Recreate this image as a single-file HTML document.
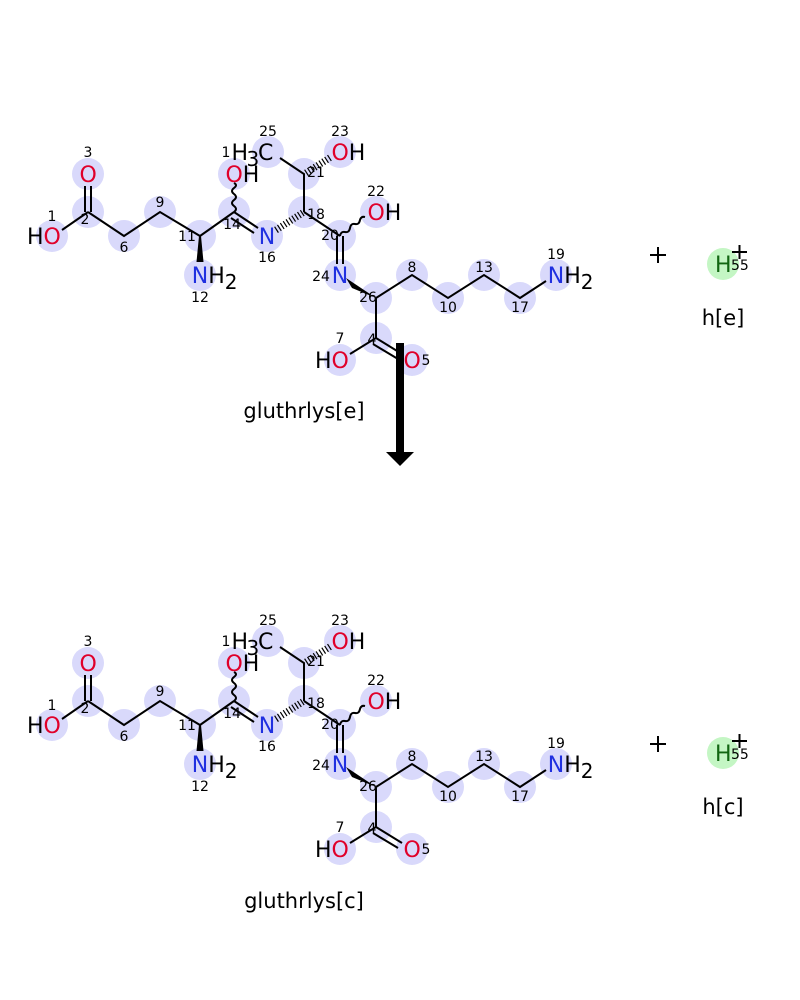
<!DOCTYPE html>
<html><head><meta charset="utf-8"><style>
html,body{margin:0;padding:0;background:#fff;}
svg{display:block;font-family:"DejaVu Sans","Liberation Sans",sans-serif;}
.c{fill:#d9d9fb;}
.b{stroke:#000;stroke-width:2;fill:none;}
.h{stroke:#000;stroke-width:7;fill:none;stroke-dasharray:1.2 2.2;}
.e{font-size:22px;}
.s{font-size:20px;}
.n{font-size:14px;fill:#000;}
.O{fill:#e0002a;} .N{fill:#2030e0;} .K{fill:#000;}
.lab{font-size:21px;}
</style></head><body>
<svg width="800" height="1000" viewBox="0 0 800 1000">
<g>
<g>
<circle class="c" cx="52" cy="236" r="16"/><circle class="c" cx="88" cy="212" r="16"/><circle class="c" cx="88" cy="174" r="16"/>
<circle class="c" cx="124" cy="236" r="16"/><circle class="c" cx="160" cy="212" r="16"/><circle class="c" cx="200" cy="236" r="16"/>
<circle class="c" cx="200" cy="275" r="16"/><circle class="c" cx="234" cy="212" r="16"/><circle class="c" cx="234" cy="174" r="16"/>
<circle class="c" cx="267" cy="236" r="16"/><circle class="c" cx="304" cy="212" r="16"/><circle class="c" cx="304" cy="174" r="16"/>
<circle class="c" cx="268" cy="152" r="16"/><circle class="c" cx="340" cy="152" r="16"/><circle class="c" cx="340" cy="236" r="16"/>
<circle class="c" cx="376" cy="212" r="16"/><circle class="c" cx="340" cy="275" r="16"/><circle class="c" cx="376" cy="298" r="16"/>
<circle class="c" cx="412" cy="275" r="16"/><circle class="c" cx="448" cy="298" r="16"/><circle class="c" cx="484" cy="275" r="16"/>
<circle class="c" cx="520" cy="298" r="16"/><circle class="c" cx="556" cy="275" r="16"/><circle class="c" cx="376" cy="338" r="16"/>
<circle class="c" cx="340" cy="360" r="16"/><circle class="c" cx="412" cy="360" r="16"/>
</g>
<path class="b" d="M62 230L88 212M85 212V186M91 212V186M88 212L124 236L160 212L200 236L234 212M234 212L258 228M231 218L254 233M304 212V174L280 158M304 212L340 236M337 236V264M343 236V264M376 298L412 275L448 298L484 275L520 298L546 281M376 298V338L350 354M376 338L402 354M373 344L398 359"/>
<path class="b" stroke-width="1.6" d="M234 212q4 -3 0 -6q-4 -3 0 -6q4 -3 0 -6q-4 -3 0 -6q4 -3 0 -5M340 236q1 -5 5 -4q4 1 5 -4q1 -5 5 -4q4 1 5 -4q1 -4 5 -3"/>
<path class="h" d="M276 230L304 212M306 173L331 157"/>
<polygon points="199,236 201,236 203.5,262 196.5,262"/>
<polygon points="346,278 352,288 376,298"/>
<text class="e K" x="27" y="244">H</text><text class="e O" x="43.5" y="244">O</text>
<text class="e O" x="79.5" y="182">O</text>
<text class="e N" x="191.7" y="283">N</text><text class="e K" x="208.2" y="283">H</text><text class="K s" x="224.8" y="289">2</text>
<text class="e O" x="225.5" y="182">O</text><text class="e K" x="242.8" y="182">H</text>
<text class="e N" x="258.7" y="244">N</text>
<text class="e K" x="231.5" y="160">H</text><text class="K s" x="246.5" y="166">3</text><text class="e K" x="258" y="160">C</text>
<text class="e O" x="331.5" y="160">O</text><text class="e K" x="348.8" y="160">H</text>
<text class="e O" x="367.5" y="220">O</text><text class="e K" x="384.8" y="220">H</text>
<text class="e N" x="331.7" y="283">N</text>
<text class="e N" x="547.7" y="283">N</text><text class="e K" x="564.2" y="283">H</text><text class="K s" x="580.8" y="289">2</text>
<text class="e K" x="315" y="368">H</text><text class="e O" x="331.5" y="368">O</text>
<text class="e O" x="403.5" y="368">O</text>
<g class="n" text-anchor="middle">
<text x="88" y="157">3</text><text x="52" y="221">1</text><text x="85" y="224">2</text><text x="124" y="252">6</text>
<text x="160" y="207">9</text><text x="187" y="241">11</text><text x="200" y="302">12</text><text x="232" y="229">14</text>
<text x="226" y="157">1</text><text x="267" y="262">16</text><text x="268" y="136">25</text><text x="340" y="136">23</text>
<text x="316" y="177">21</text><text x="316" y="219">18</text><text x="376" y="196">22</text><text x="330" y="240">20</text>
<text x="321" y="281">24</text><text x="368" y="302">26</text><text x="412" y="272">8</text><text x="448" y="312">10</text>
<text x="484" y="272">13</text><text x="520" y="312">17</text><text x="556" y="259">19</text><text x="340" y="343">7</text>
<text x="372" y="344">4</text><text x="426" y="365">5</text>
</g>
<text x="304" y="418" text-anchor="middle" class="K lab">gluthrlys[e]</text>
<path class="b" d="M650 255H666M658 247V263"/>
<circle cx="723" cy="264" r="16" fill="#c4f6c4"/>
<text class="e" x="715" y="272" fill="#116611">H</text>
<text class="n" x="731" y="270" fill="#116611">55</text>
<path class="b" d="M732 252H747M739.5 245V259"/>
<text x="723" y="325" text-anchor="middle" class="lab">h[e]</text>
</g>
<rect x="396" y="343" width="8" height="110"/>
<polygon points="386,452 414,452 400,466"/>
<g transform="translate(0,489)">
<g>
<circle class="c" cx="52" cy="236" r="16"/><circle class="c" cx="88" cy="212" r="16"/><circle class="c" cx="88" cy="174" r="16"/>
<circle class="c" cx="124" cy="236" r="16"/><circle class="c" cx="160" cy="212" r="16"/><circle class="c" cx="200" cy="236" r="16"/>
<circle class="c" cx="200" cy="275" r="16"/><circle class="c" cx="234" cy="212" r="16"/><circle class="c" cx="234" cy="174" r="16"/>
<circle class="c" cx="267" cy="236" r="16"/><circle class="c" cx="304" cy="212" r="16"/><circle class="c" cx="304" cy="174" r="16"/>
<circle class="c" cx="268" cy="152" r="16"/><circle class="c" cx="340" cy="152" r="16"/><circle class="c" cx="340" cy="236" r="16"/>
<circle class="c" cx="376" cy="212" r="16"/><circle class="c" cx="340" cy="275" r="16"/><circle class="c" cx="376" cy="298" r="16"/>
<circle class="c" cx="412" cy="275" r="16"/><circle class="c" cx="448" cy="298" r="16"/><circle class="c" cx="484" cy="275" r="16"/>
<circle class="c" cx="520" cy="298" r="16"/><circle class="c" cx="556" cy="275" r="16"/><circle class="c" cx="376" cy="338" r="16"/>
<circle class="c" cx="340" cy="360" r="16"/><circle class="c" cx="412" cy="360" r="16"/>
</g>
<path class="b" d="M62 230L88 212M85 212V186M91 212V186M88 212L124 236L160 212L200 236L234 212M234 212L258 228M231 218L254 233M304 212V174L280 158M304 212L340 236M337 236V264M343 236V264M376 298L412 275L448 298L484 275L520 298L546 281M376 298V338L350 354M376 338L402 354M373 344L398 359"/>
<path class="b" stroke-width="1.6" d="M234 212q4 -3 0 -6q-4 -3 0 -6q4 -3 0 -6q-4 -3 0 -6q4 -3 0 -5M340 236q1 -5 5 -4q4 1 5 -4q1 -5 5 -4q4 1 5 -4q1 -4 5 -3"/>
<path class="h" d="M276 230L304 212M306 173L331 157"/>
<polygon points="199,236 201,236 203.5,262 196.5,262"/>
<polygon points="346,278 352,288 376,298"/>
<text class="e K" x="27" y="244">H</text><text class="e O" x="43.5" y="244">O</text>
<text class="e O" x="79.5" y="182">O</text>
<text class="e N" x="191.7" y="283">N</text><text class="e K" x="208.2" y="283">H</text><text class="K s" x="224.8" y="289">2</text>
<text class="e O" x="225.5" y="182">O</text><text class="e K" x="242.8" y="182">H</text>
<text class="e N" x="258.7" y="244">N</text>
<text class="e K" x="231.5" y="160">H</text><text class="K s" x="246.5" y="166">3</text><text class="e K" x="258" y="160">C</text>
<text class="e O" x="331.5" y="160">O</text><text class="e K" x="348.8" y="160">H</text>
<text class="e O" x="367.5" y="220">O</text><text class="e K" x="384.8" y="220">H</text>
<text class="e N" x="331.7" y="283">N</text>
<text class="e N" x="547.7" y="283">N</text><text class="e K" x="564.2" y="283">H</text><text class="K s" x="580.8" y="289">2</text>
<text class="e K" x="315" y="368">H</text><text class="e O" x="331.5" y="368">O</text>
<text class="e O" x="403.5" y="368">O</text>
<g class="n" text-anchor="middle">
<text x="88" y="157">3</text><text x="52" y="221">1</text><text x="85" y="224">2</text><text x="124" y="252">6</text>
<text x="160" y="207">9</text><text x="187" y="241">11</text><text x="200" y="302">12</text><text x="232" y="229">14</text>
<text x="226" y="157">1</text><text x="267" y="262">16</text><text x="268" y="136">25</text><text x="340" y="136">23</text>
<text x="316" y="177">21</text><text x="316" y="219">18</text><text x="376" y="196">22</text><text x="330" y="240">20</text>
<text x="321" y="281">24</text><text x="368" y="302">26</text><text x="412" y="272">8</text><text x="448" y="312">10</text>
<text x="484" y="272">13</text><text x="520" y="312">17</text><text x="556" y="259">19</text><text x="340" y="343">7</text>
<text x="372" y="344">4</text><text x="426" y="365">5</text>
</g>
<text x="304" y="419" text-anchor="middle" class="K lab">gluthrlys[c]</text>
<path class="b" d="M650 255H666M658 247V263"/>
<circle cx="723" cy="264" r="16" fill="#c4f6c4"/>
<text class="e" x="715" y="272" fill="#116611">H</text>
<text class="n" x="731" y="270" fill="#116611">55</text>
<path class="b" d="M732 252H747M739.5 245V259"/>
<text x="723" y="325" text-anchor="middle" class="lab">h[c]</text>
</g>
</svg>
</body></html>
